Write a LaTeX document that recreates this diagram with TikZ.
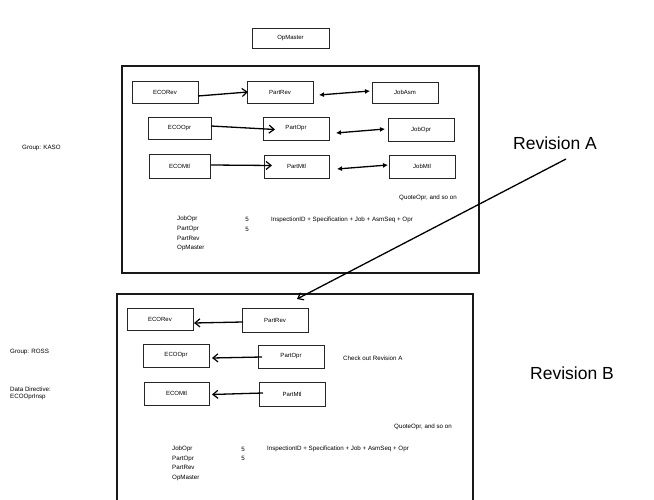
\documentclass[tikz,border=0pt]{standalone}
\usepackage{fontspec}
\setmainfont{Liberation Sans}
\usetikzlibrary{arrows.meta}
\begin{document}
\begin{tikzpicture}[x=1pt,y=-1pt,
  tbl/.style={draw=black!85,line width=0.8pt,fill=white,inner sep=0pt,font=\fontsize{6}{7}\selectfont},
  frame/.style={draw=black!90,line width=1.4pt},
  lbl/.style={inner sep=0pt,font=\fontsize{6.2}{7}\selectfont},
  big/.style={inner sep=0pt,font=\fontsize{17.5}{19}\selectfont},
  con/.style={line width=1.3pt,-{Straight Barb[length=5pt,width=8pt,line width=1.2pt]}},
  bicon/.style={line width=1.3pt,{Latex[length=5pt,width=5pt]}-{Latex[length=5pt,width=5pt]}}]
\useasboundingbox (0,0) rectangle (654,500);
\fill[white] (0,0) rectangle (654,500);
% OpMaster
\node[tbl,minimum width=77pt,minimum height=20pt] (opm) at (290.5,38) {OpMaster};
% Frames
\draw[frame] (122,66) rectangle (479,273);
\draw[frame] (117,294) rectangle (473,503);
% Revision A boxes
\node[tbl,minimum width=66pt,minimum height=22pt] (aecorev) at (165,92) {ECORev};
\node[tbl,minimum width=66pt,minimum height=22pt] (apartrev) at (280,92) {PartRev};
\node[tbl,minimum width=66pt,minimum height=21pt] (ajobasm) at (405,92.5) {JobAsm};
\node[tbl,minimum width=63pt,minimum height=22pt] (aecoopr) at (179.5,128) {ECOOpr};
\node[tbl,minimum width=66pt,minimum height=23pt] (apartopr) at (296,128.5) {PartOpr};
\node[tbl,minimum width=66pt,minimum height=23pt] (ajobopr) at (421,129.5) {JobOpr};
\node[tbl,minimum width=61pt,minimum height=24pt] (aecomtl) at (179.5,166) {ECOMtl};
\node[tbl,minimum width=65pt,minimum height=23pt] (apartmtl) at (296.5,166.5) {PartMtl};
\node[tbl,minimum width=66pt,minimum height=23pt] (ajobmtl) at (422,166.5) {JobMtl};
\coordinate (aA1) at (198,96); \coordinate (aA2) at (248,92);
\draw[con] (aA1) -- (aA2);
\coordinate (aB1) at (211,126); \coordinate (aB2) at (275,129.5);
\draw[con] (aB1) -- (aB2);
\coordinate (aC1) at (211,165); \coordinate (aC2) at (272,165.5);
\draw[con] (aC1) -- (aC2);
\coordinate (aD1) at (319,95); \coordinate (aD2) at (370,91);
\draw[bicon] (aD1) -- (aD2);
\coordinate (aE1) at (336,133); \coordinate (aE2) at (385,129);
\draw[bicon] (aE1) -- (aE2);
\coordinate (aF1) at (337,169); \coordinate (aF2) at (388,165);
\draw[bicon] (aF1) -- (aF2);
% Revision A texts
\node[lbl,anchor=east] (aquote) at (457,198) {QuoteOpr, and so on};
\node[lbl,anchor=west] (ajo) at (177,219) {JobOpr};
\node[lbl,anchor=west] (apo) at (177,229) {PartOpr};
\node[lbl,anchor=west] (apr) at (177,238) {PartRev};
\node[lbl,anchor=west] (aom) at (177,248) {OpMaster};
\node[lbl] (a5a) at (247,219) {5};
\node[lbl] (a5b) at (247,229) {5};
\node[lbl,anchor=west] (ains) at (271,220) {InspectionID + Specification + Job + AsmSeq + Opr};
\node[lbl,anchor=west] (gkaso) at (22,148) {Group: KASO};
\node[big,anchor=west] (reva) at (513,143) {Revision A};
% Revision B boxes
\node[tbl,minimum width=66pt,minimum height=22pt] (becorev) at (160,319) {ECORev};
\node[tbl,minimum width=66pt,minimum height=24pt] (bpartrev) at (275,320) {PartRev};
\node[tbl,minimum width=66pt,minimum height=23pt] (becoopr) at (176,355.5) {ECOOpr};
\node[tbl,minimum width=66pt,minimum height=23pt] (bpartopr) at (291,356.5) {PartOpr};
\node[tbl,minimum width=65pt,minimum height=23pt] (becomtl) at (176.5,393.5) {ECOMtl};
\node[tbl,minimum width=66pt,minimum height=24pt] (bpartmtl) at (292,394) {PartMtl};
\coordinate (bA1) at (243,322); \coordinate (bA2) at (194,323);
\draw[con] (bA1) -- (bA2);
\coordinate (bB1) at (262,357); \coordinate (bB2) at (212,358);
\draw[con] (bB1) -- (bB2);
\coordinate (bC1) at (263,393); \coordinate (bC2) at (212,394.5);
\draw[con] (bC1) -- (bC2);
% Revision B texts
\node[lbl,anchor=west] (bcheck) at (343,358) {Check out Revision A};
\node[lbl,anchor=east] (bquote) at (452,427) {QuoteOpr, and so on};
\node[lbl,anchor=west] (bjo) at (172,449) {JobOpr};
\node[lbl,anchor=west] (bpo) at (172,459) {PartOpr};
\node[lbl,anchor=west] (bpr) at (172,467) {PartRev};
\node[lbl,anchor=west] (bom) at (172,478) {OpMaster};
\node[lbl] (b5a) at (243,449) {5};
\node[lbl] (b5b) at (243,458) {5};
\node[lbl,anchor=west] (bins) at (267,449) {InspectionID + Specification + Job + AsmSeq + Opr};
\node[lbl,anchor=west] (gross) at (10,352) {Group: ROSS};
\node[lbl,anchor=west,align=left] (ddir) at (10,393.5) {Data Directive:\\ECOOprInsp};
\node[big,anchor=west] (revb) at (530,373) {Revision B};
% long arrow
\coordinate (lstart) at (566,159);
\coordinate (lend) at (297,299);
\draw[con] (lstart) -- (lend);
\end{tikzpicture}
\end{document}
